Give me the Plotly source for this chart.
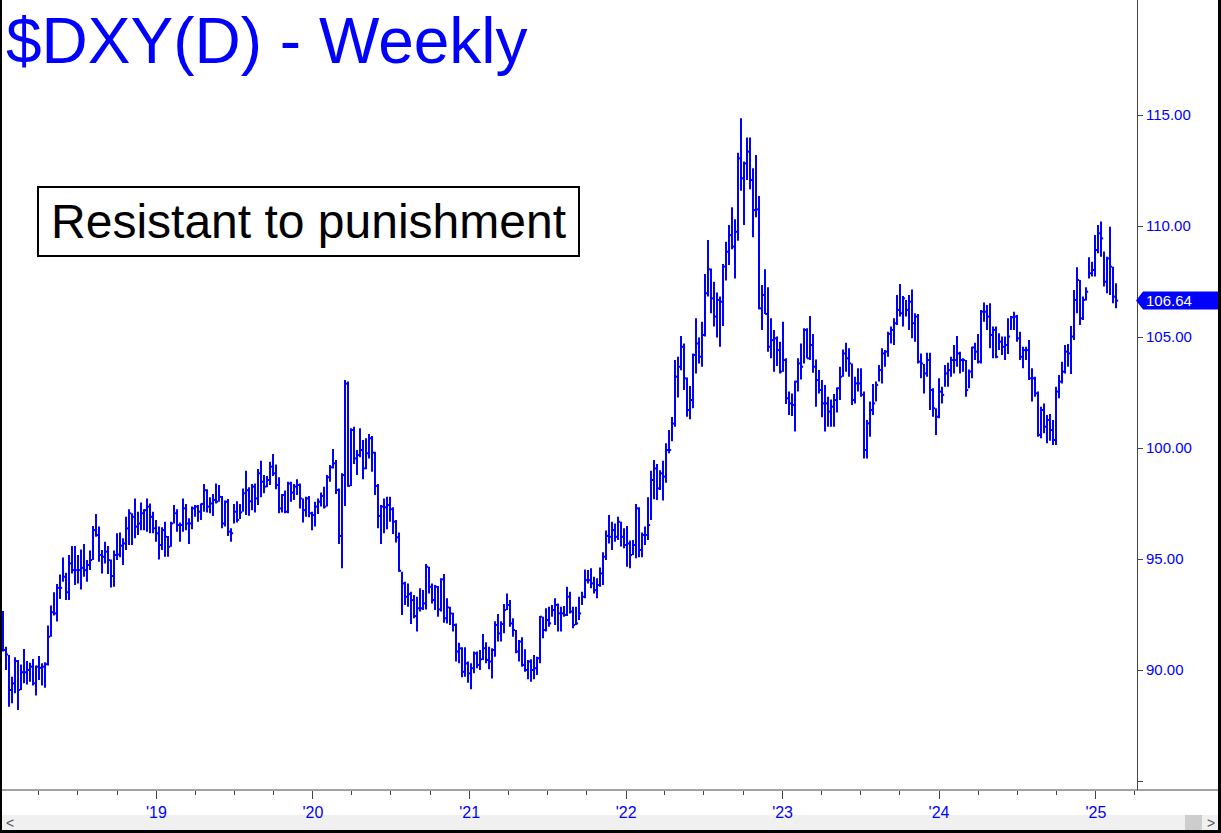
import pandas as pd
import plotly.graph_objects as go

# ---------------- data (weekly bars, week starting Monday) ----------------
week_start = "2018-01-08"

highs = [
    92.66, 91.05, 90.68, 89.70, 90.57, 90.45, 90.25, 90.95, 90.40, 90.33,
    90.50, 90.20, 90.63, 90.30, 90.35, 92.00, 92.90, 93.50, 93.87, 94.30,
    95.07, 94.38, 95.18, 95.58, 95.58, 95.18, 95.43, 95.68, 94.95, 95.38,
    96.49, 97.03, 96.46, 95.40, 95.78, 95.58, 94.98, 95.38, 96.16, 96.19,
    95.93, 96.90, 97.24, 97.06, 97.73, 97.13, 97.54, 97.24, 97.73, 97.50,
    97.13, 96.76, 96.46, 96.43, 96.68, 96.04, 96.68, 97.43, 97.24, 96.64,
    97.73, 97.48, 96.83, 97.36, 97.43, 97.43, 97.50, 98.38, 98.14, 97.78,
    97.93, 98.40, 98.33, 97.84, 97.63, 97.70, 96.38, 97.48, 97.60, 97.48,
    98.18, 98.98, 98.23, 98.38, 98.40, 99.05, 99.43, 98.78, 98.74, 99.38,
    99.73, 99.26, 98.68, 97.93, 98.08, 98.48, 98.48, 98.38, 98.59, 98.40,
    97.73, 97.80, 97.84, 97.13, 97.58, 97.73, 97.99, 98.26, 98.78, 99.23,
    99.95, 99.46, 98.18, 98.86, 103.06, 102.99, 100.89, 100.96, 99.91, 100.89,
    100.36, 100.44, 100.63, 100.54, 99.83, 98.38, 97.43, 97.73, 97.80, 97.80,
    97.33, 96.76, 96.19, 94.43, 93.98, 93.90, 93.53, 93.38, 93.30, 93.68,
    93.60, 94.77, 94.65, 93.90, 93.83, 93.78, 94.13, 94.32, 93.23, 92.85,
    92.58, 92.10, 91.23, 91.02, 91.02, 90.38, 90.30, 90.83, 90.83, 90.90,
    91.62, 91.25, 91.05, 90.98, 92.20, 92.52, 92.20, 92.97, 93.45, 93.15,
    92.33, 91.80, 91.35, 91.47, 90.93, 90.45, 90.48, 90.68, 90.60, 92.43,
    92.40, 92.78, 92.85, 92.93, 93.23, 93.00, 92.85, 92.88, 93.75, 93.53,
    92.85, 92.85, 93.30, 93.53, 94.53, 94.50, 94.58, 94.20, 94.13, 94.62,
    95.30, 96.28, 96.98, 96.68, 96.60, 96.90, 96.68, 96.38, 96.49, 95.83,
    95.86, 97.48, 97.33, 96.19, 96.46, 97.78, 98.98, 99.46, 99.28, 99.00,
    99.43, 100.21, 100.81, 101.40, 103.96, 104.11, 105.05, 104.71, 103.18, 102.79,
    104.26, 105.84, 104.98, 105.69, 107.84, 109.37, 108.09, 107.49, 107.00, 106.82,
    108.29, 109.29, 110.05, 110.84, 110.30, 113.30, 114.85, 112.90, 113.99, 113.99,
    112.60, 113.20, 111.35, 107.34, 108.05, 107.24, 105.84, 105.32, 105.02, 104.79,
    105.69, 104.04, 102.54, 102.46, 103.03, 104.04, 104.71, 105.39, 105.39, 105.95,
    105.14, 103.99, 103.51, 103.06, 102.84, 102.31, 102.19, 102.43, 102.73, 103.66,
    104.44, 104.74, 104.49, 103.81, 103.21, 103.59, 103.59, 102.54, 101.26, 102.09,
    102.88, 102.99, 103.74, 104.49, 104.41, 105.24, 105.47, 105.84, 106.89, 107.39,
    106.85, 106.67, 106.89, 107.14, 106.07, 106.04, 104.26, 103.78, 104.29, 104.29,
    102.69, 101.79, 103.14, 102.76, 103.74, 103.84, 104.11, 104.64, 105.05, 104.34,
    104.04, 103.96, 103.54, 104.56, 104.74, 105.14, 106.22, 106.55, 106.44, 106.52,
    105.47, 105.47, 105.17, 105.02, 105.02, 105.84, 105.95, 106.14, 105.99, 105.24,
    104.56, 104.56, 104.86, 103.59, 103.21, 102.54, 101.86, 102.01, 101.49, 101.53,
    101.26, 102.76, 103.29, 103.89, 104.64, 104.68, 105.50, 107.12, 108.14, 107.57,
    106.82, 107.24, 108.59, 108.39, 109.59, 110.05, 110.20, 108.85, 108.62, 109.97,
    108.17, 107.42,
]

lows = [
    90.83, 90.00, 88.35, 88.50, 88.95, 88.20, 89.10, 89.40, 89.35, 89.47,
    89.30, 88.85, 89.55, 89.30, 89.20, 90.20, 91.50, 92.45, 92.18, 93.20,
    93.98, 93.15, 93.15, 94.35, 93.83, 93.90, 93.63, 94.20, 93.98, 94.50,
    94.95, 96.00, 94.88, 94.35, 94.80, 94.32, 93.72, 93.75, 94.95, 95.08,
    94.73, 95.40, 95.63, 95.63, 95.93, 96.08, 96.30, 96.30, 96.23, 96.16,
    96.16, 95.78, 94.98, 95.40, 95.10, 95.10, 95.55, 96.60, 96.23, 95.78,
    96.23, 96.30, 95.68, 96.34, 96.90, 96.68, 96.76, 97.13, 97.09, 97.06,
    96.94, 97.50, 97.58, 96.38, 96.46, 96.04, 95.78, 96.60, 96.64, 96.80,
    97.13, 96.98, 96.95, 97.20, 97.09, 97.43, 97.78, 97.96, 98.23, 98.33,
    98.74, 98.14, 97.06, 97.09, 97.06, 97.06, 97.58, 97.66, 97.88, 97.28,
    96.64, 96.90, 96.88, 96.30, 96.46, 97.03, 97.36, 97.28, 97.36, 98.48,
    99.08, 97.93, 95.68, 94.58, 97.39, 98.26, 98.29, 99.28, 98.78, 99.58,
    98.59, 99.04, 99.53, 98.93, 97.88, 96.38, 95.68, 96.16, 96.34, 96.68,
    96.13, 95.74, 94.43, 92.48, 92.93, 92.85, 92.07, 92.33, 91.73, 92.63,
    92.70, 92.72, 93.45, 93.00, 92.70, 92.40, 92.63, 92.13, 92.10, 92.03,
    91.73, 90.38, 90.30, 89.67, 89.70, 89.43, 89.13, 89.85, 90.08, 90.00,
    90.45, 90.30, 90.03, 89.62, 90.60, 91.28, 91.28, 91.65, 92.70, 91.95,
    91.50, 90.75, 90.38, 90.15, 89.92, 89.58, 89.47, 89.58, 89.77, 90.30,
    91.43, 91.73, 91.95, 92.40, 92.03, 91.73, 91.73, 92.40, 92.43, 92.55,
    91.88, 92.03, 92.25, 92.93, 93.23, 93.90, 93.68, 93.45, 93.23, 93.75,
    93.83, 94.95, 95.70, 95.40, 95.78, 95.86, 95.56, 95.48, 94.65, 94.58,
    95.18, 95.03, 95.08, 95.08, 95.63, 95.86, 96.76, 97.69, 97.66, 98.11,
    97.63, 98.44, 99.76, 100.30, 100.96, 102.28, 103.50, 102.61, 101.41, 101.29,
    101.79, 103.36, 103.81, 103.66, 105.02, 106.82, 106.07, 105.47, 104.98, 104.56,
    105.50, 107.54, 108.24, 108.95, 107.64, 109.34, 111.59, 110.05, 112.07, 111.65,
    109.49, 110.39, 106.25, 105.32, 106.04, 104.34, 104.04, 103.44, 103.69, 103.36,
    103.44, 101.98, 101.49, 101.44, 100.74, 102.54, 103.09, 103.81, 104.04, 103.96,
    103.39, 101.86, 102.46, 101.38, 100.74, 100.96, 100.96, 100.96, 101.60, 102.16,
    103.21, 103.44, 103.21, 101.94, 102.01, 102.54, 102.31, 99.53, 99.53, 100.51,
    101.49, 102.09, 102.99, 102.91, 103.66, 104.11, 104.71, 104.64, 105.54, 105.92,
    105.47, 105.92, 105.32, 104.94, 104.79, 103.81, 103.14, 102.46, 103.21, 101.71,
    101.41, 100.59, 101.34, 102.01, 102.76, 102.76, 103.21, 103.36, 103.66, 103.36,
    103.44, 102.31, 102.69, 103.14, 103.96, 103.81, 103.81, 105.69, 105.32, 104.49,
    104.04, 104.04, 104.41, 104.19, 103.96, 104.23, 105.32, 105.32, 104.79, 103.96,
    103.59, 103.96, 103.06, 102.09, 102.31, 100.51, 100.44, 100.66, 100.21, 100.33,
    100.14, 100.14, 102.24, 102.91, 103.36, 103.66, 103.33, 104.86, 106.07, 105.54,
    105.77, 106.64, 107.64, 107.72, 107.72, 108.77, 108.62, 107.27, 106.97, 106.89,
    106.52, 106.29,
]

closes = [
    90.90, 90.70, 89.10, 89.40, 90.40, 89.10, 89.90, 89.90, 90.00, 90.15,
    89.40, 90.15, 90.10, 90.15, 90.26, 91.50, 92.60, 92.55, 93.70, 93.70,
    94.20, 93.50, 94.80, 94.50, 94.50, 94.50, 94.60, 94.50, 94.73, 94.95,
    96.30, 96.08, 95.18, 95.10, 95.33, 94.95, 94.23, 95.18, 95.20, 95.60,
    95.70, 96.38, 97.06, 96.90, 96.46, 96.60, 97.06, 97.20, 97.36, 96.90,
    96.38, 96.16, 95.63, 96.30, 96.00, 95.55, 96.60, 97.06, 96.53, 96.53,
    97.28, 96.60, 96.60, 97.28, 97.36, 97.13, 97.48, 98.10, 97.36, 97.50,
    97.66, 97.58, 97.80, 96.60, 97.58, 96.23, 96.16, 97.13, 96.76, 97.10,
    97.96, 98.10, 97.60, 98.26, 97.73, 98.86, 98.48, 98.26, 98.56, 99.16,
    98.86, 98.33, 97.28, 97.88, 97.13, 98.40, 97.99, 98.26, 98.33, 97.73,
    97.20, 97.73, 97.06, 96.98, 97.36, 97.58, 97.84, 97.36, 98.68, 99.13,
    99.31, 98.11, 96.04, 98.78, 102.90, 98.29, 100.81, 99.53, 99.68, 99.91,
    99.08, 99.76, 100.44, 99.79, 98.29, 96.94, 97.36, 97.33, 97.43, 97.24,
    96.68, 95.98, 94.47, 93.90, 93.30, 93.42, 93.15, 92.43, 92.78, 92.78,
    93.00, 94.65, 93.75, 93.15, 93.75, 92.73, 94.08, 92.33, 92.82, 92.55,
    92.03, 90.83, 90.98, 89.92, 90.30, 89.85, 90.08, 90.75, 90.23, 90.48,
    90.98, 90.45, 90.38, 90.90, 92.03, 91.65, 92.07, 92.70, 92.93, 92.10,
    91.80, 90.83, 91.28, 90.23, 90.00, 90.38, 90.00, 90.08, 90.53, 92.40,
    91.80, 92.25, 92.10, 92.70, 92.93, 92.55, 92.55, 92.48, 93.30, 92.63,
    92.03, 92.10, 92.55, 93.30, 94.05, 94.05, 93.90, 93.60, 93.83, 94.35,
    95.10, 96.04, 96.00, 96.30, 96.00, 96.68, 96.00, 95.63, 95.70, 95.18,
    95.63, 97.28, 95.41, 96.08, 96.08, 96.53, 98.56, 99.08, 98.18, 98.86,
    98.71, 99.91, 99.91, 101.10, 103.21, 103.66, 104.56, 103.14, 101.71, 102.16,
    104.19, 104.71, 104.11, 105.09, 106.97, 108.05, 106.74, 105.92, 106.67, 106.59,
    108.17, 108.84, 109.59, 109.07, 109.74, 113.05, 112.15, 112.82, 113.35, 112.07,
    110.72, 110.75, 106.29, 106.89, 106.04, 104.56, 104.86, 104.94, 104.41, 103.44,
    103.96, 102.24, 102.01, 101.94, 102.99, 103.81, 103.66, 105.32, 104.04, 104.64,
    103.66, 103.06, 102.61, 102.01, 102.01, 101.64, 101.86, 102.16, 102.69, 103.21,
    104.26, 104.04, 103.81, 102.16, 102.91, 102.91, 102.40, 99.91, 101.11, 101.71,
    102.01, 102.84, 103.51, 104.26, 104.34, 105.14, 105.32, 105.62, 106.22, 106.07,
    106.74, 106.22, 106.59, 105.62, 105.92, 103.89, 103.81, 103.36, 103.96, 102.61,
    101.79, 101.41, 102.54, 102.39, 103.36, 103.51, 103.96, 103.96, 104.26, 103.96,
    103.96, 102.61, 103.44, 104.53, 104.34, 103.89, 106.14, 106.14, 105.92, 105.09,
    105.32, 104.11, 104.79, 104.56, 104.64, 105.02, 105.89, 105.92, 104.94, 104.11,
    104.41, 104.41, 103.14, 103.14, 102.46, 100.59, 101.71, 100.96, 101.26, 100.81,
    100.36, 102.54, 102.99, 103.44, 104.34, 104.26, 105.02, 106.67, 107.57, 105.84,
    106.67, 107.04, 107.87, 108.02, 108.92, 109.67, 109.44, 107.49, 108.54, 108.17,
    106.82, 106.64,
]

year_ticks = ["2019-01-01", "2020-01-01", "2021-01-01", "2022-01-01",
              "2023-01-01", "2024-01-01", "2025-01-01"]
year_labels = ["'19", "'20", "'21", "'22", "'23", "'24", "'25"]
price_ticks = [85, 90, 95, 100, 105, 110, 115]
price_labels = ["", "90.00", "95.00", "100.00", "105.00", "110.00", "115.00"]
last_price_label = "106.64"
title_text = "$DXY(D) - Weekly"
note_text = "Resistant to punishment"

# ---------------- layout constants ----------------
W, H = 1221, 833
PW, PH = 1137, 790          # plot area in pixels
BLUE = "#0000ff"
AX = "#444444"
FONT = "Liberation Sans, Arial, sans-serif"

n = min(len(highs), len(lows), len(closes))
dates = pd.date_range(week_start, periods=n, freq="7D")

days_per_px = 7.0 / 3.0
x0 = dates[0] - pd.Timedelta(days=3.0 * days_per_px)
x1 = x0 + pd.Timedelta(days=PW * days_per_px)
y_lo = 90 - 120 / 22.2
y_hi = 90 + 670 / 22.2

def px(xp):
    return xp / PW

def py(yp):
    return 1 - yp / PH

xs, ys = [], []
tick = pd.Timedelta(days=5)
for i in range(n):
    d = dates[i]
    xs += [d, d, None, d, d + tick, None]
    ys += [lows[i], highs[i], None, closes[i], closes[i], None]

fig = go.Figure()
fig.add_trace(go.Scatter(x=xs, y=ys, mode="lines",
                         line=dict(color=BLUE, width=2),
                         hoverinfo="skip", showlegend=False))

minor_vals = []
for yr in range(2018, 2026):
    for m in (4, 7, 10):
        minor_vals.append(f"{yr}-{m:02d}-01")

fig.update_layout(
    width=W, height=H,
    margin=dict(l=0, r=W - PW, t=0, b=H - PH),
    paper_bgcolor="white", plot_bgcolor="white",
    font=dict(family=FONT),
    showlegend=False,
    xaxis=dict(
        type="date", range=[x0, x1], showgrid=False, zeroline=False,
        tickvals=year_ticks, ticktext=year_labels,
        ticks="outside", ticklen=8, tickwidth=1, tickcolor=AX,
        tickfont=dict(size=16, color=BLUE, family=FONT),
        showline=False,
        minor=dict(tickvals=minor_vals, ticks="outside", ticklen=4,
                   tickwidth=1, tickcolor=AX, showgrid=False),
    ),
    yaxis=dict(
        side="right", range=[y_lo, y_hi], showgrid=False, zeroline=False,
        tickvals=price_ticks, ticktext=price_labels,
        ticks="outside", ticklen=5, tickwidth=1, tickcolor=AX,
        tickfont=dict(size=15, color=BLUE, family=FONT),
        showline=True, linecolor=AX, linewidth=1,
    ),
)

shapes = []
# x axis line extends under the price scale
shapes.append(dict(type="line", xref="paper", yref="paper",
                   x0=0, x1=px(W), y0=0, y1=0,
                   line=dict(color=AX, width=1)))
# scrollbar
shapes.append(dict(type="rect", xref="paper", yref="paper",
                   x0=px(0), x1=px(1219), y0=py(815), y1=py(830),
                   fillcolor="#f0f0f0", line=dict(width=0), layer="below"))
shapes.append(dict(type="rect", xref="paper", yref="paper",
                   x0=px(1185), x1=px(1202), y0=py(815), y1=py(830),
                   fillcolor="#cdcdcd", line=dict(width=0)))
# outer frame
shapes.append(dict(type="line", xref="paper", yref="paper",
                   x0=px(1), x1=px(1), y0=py(0), y1=py(833),
                   line=dict(color="black", width=2)))
shapes.append(dict(type="line", xref="paper", yref="paper",
                   x0=px(1219.5), x1=px(1219.5), y0=py(0), y1=py(833),
                   line=dict(color="black", width=3)))
shapes.append(dict(type="line", xref="paper", yref="paper",
                   x0=px(0), x1=px(W), y0=py(831.5), y1=py(831.5),
                   line=dict(color="black", width=3)))
# last price tag
tip, body, right = px(1136), px(1143), px(1218)
shapes.append(dict(type="path", xref="paper", yref="y",
                   ysizemode="pixel", yanchor=closes[n - 1],
                   path=f"M {tip},0 L {body},9 L {right},9 L {right},-9 L {body},-9 Z",
                   fillcolor=BLUE, line=dict(width=0)))
fig.update_layout(shapes=shapes)

fig.add_annotation(text=title_text, xref="paper", yref="paper",
                   x=px(4), y=py(3), xanchor="left", yanchor="top",
                   showarrow=False,
                   font=dict(size=64, color=BLUE, family=FONT))
fig.add_annotation(text=note_text, xref="paper", yref="paper",
                   x=px(37), y=py(186), xanchor="left", yanchor="top",
                   width=539, height=67, align="center", valign="middle",
                   showarrow=False, bgcolor="white",
                   bordercolor="black", borderwidth=2, borderpad=0,
                   font=dict(size=48, color="black", family=FONT))
fig.add_annotation(text=last_price_label, xref="paper", yref="y",
                   x=px(1144), y=closes[n - 1], xanchor="left", yanchor="middle",
                   showarrow=False,
                   font=dict(size=15, color="white", family=FONT))
fig.add_annotation(text="&lt;", xref="paper", yref="paper",
                   x=px(10), y=py(822.5), xanchor="center", yanchor="middle",
                   showarrow=False, font=dict(size=14, color="#555", family=FONT))
fig.add_annotation(text="&gt;", xref="paper", yref="paper",
                   x=px(1211), y=py(822.5), xanchor="center", yanchor="middle",
                   showarrow=False, font=dict(size=14, color="#555", family=FONT))

fig.write_html(
    "out.html",
    config={"displayModeBar": False},
    post_script="document.body.style.margin='0';document.body.style.overflow='hidden';",
)
